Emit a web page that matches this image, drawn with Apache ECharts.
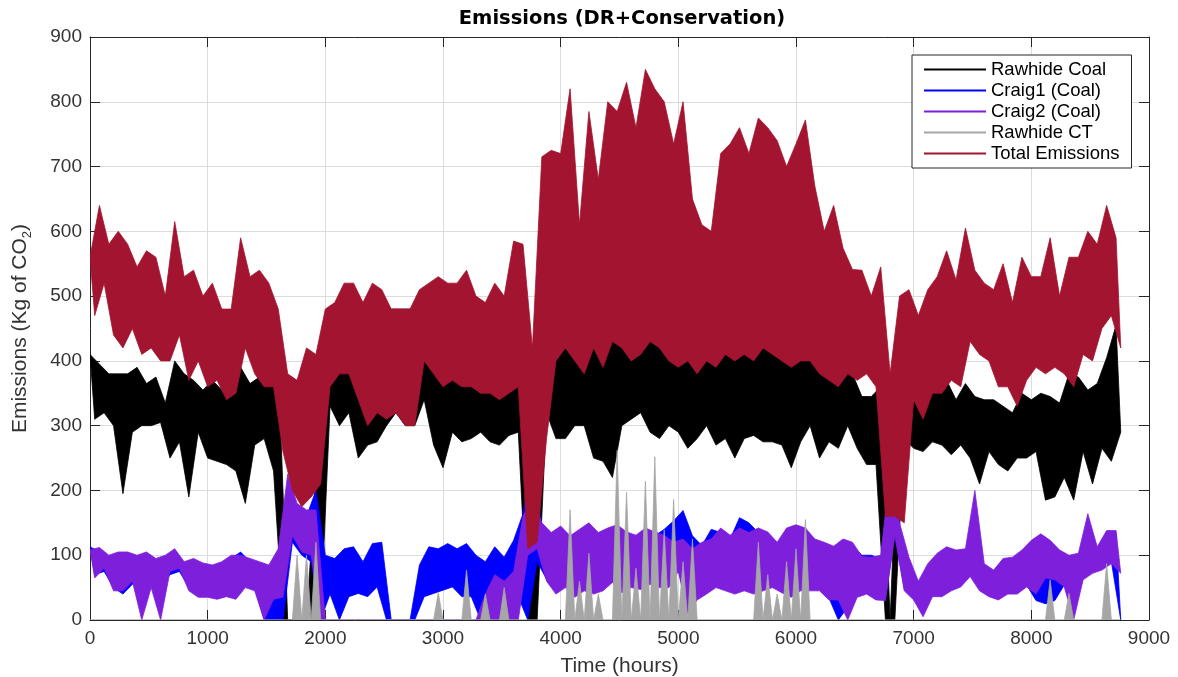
<!DOCTYPE html>
<html><head><meta charset="utf-8">
<script src="https://cdn.jsdelivr.net/npm/echarts@6/dist/echarts.min.js"></script>
<style>html,body{margin:0;padding:0;background:#fff}#c{width:1178px;height:677px}</style>
</head><body><div id="c"></div>
<script>
// Hourly samples are summarised every STEP hours: the peak reading (hi) of the window at t, its dip reading (lo) at t+STEP/2
const STEP = 80;
const xTicks = [0, 1000, 2000, 3000, 4000, 5000, 6000, 7000, 8000, 9000];
const yTicks = [0, 100, 200, 300, 400, 500, 600, 700, 800, 900];
const seriesNames = ['Rawhide Coal', 'Craig1 (Coal)', 'Craig2 (Coal)', 'Rawhide CT', 'Total Emissions'];

const totalHi = [560,640,580,600,580,545,570,560,500,615,
 530,540,500,520,480,480,590,530,540,520,
 480,380,370,420,410,480,490,520,520,490,
 520,510,480,480,480,510,520,530,520,520,
 540,500,490,520,500,585,580,420,715,725,
 720,820,610,785,680,800,785,830,760,850,
 820,800,735,800,650,610,600,720,735,760,
 720,775,760,740,700,735,772,670,600,640,
 574,541,540,500,545,380,500,510,470,510,
 530,570,525,605,540,520,510,550,490,560,
 530,530,590,500,560,560,600,580,640,590];
const totalLo = [470,520,440,420,450,410,420,400,400,440,
 370,400,360,370,340,350,420,380,360,360,
 260,200,175,190,210,360,380,380,340,300,
 320,310,320,300,300,400,380,360,370,360,
 360,350,350,340,350,360,110,120,280,400,
 420,400,380,420,390,430,420,400,410,430,
 420,400,390,400,380,400,390,410,400,410,
 400,420,410,400,390,400,400,380,370,360,
 380,370,380,360,160,160,150,340,310,350,
 350,370,360,430,410,400,360,360,330,370,
 390,380,390,380,360,410,400,450,470,420];

const coalHi = [410,395,380,380,380,390,365,375,335,400,
 380,370,355,370,355,345,390,365,375,380,
 400,0,0,0,225,430,410,420,420,380,
 375,420,480,480,480,420,400,390,380,390,
 380,385,370,360,355,400,410,60,430,450,
 470,430,400,420,450,450,440,470,460,455,
 490,470,480,470,410,400,410,450,470,480,
 470,460,455,420,420,455,475,420,460,400,
 410,380,345,345,360,0,370,330,345,385,
 360,370,340,365,345,340,340,330,320,350,
 340,350,345,335,380,375,355,365,405,455];
const coalLo = [310,320,300,195,290,300,300,305,250,275,
 190,290,250,245,240,230,180,270,280,230,
 0,0,0,0,0,330,300,320,250,270,
 275,300,320,300,300,340,270,235,290,275,
 280,290,275,270,285,290,0,0,320,280,
 280,300,300,250,245,220,300,310,320,290,
 280,300,290,265,280,300,270,280,250,280,
 285,275,275,270,235,275,300,250,275,265,
 300,265,240,240,0,0,280,265,260,275,
 270,255,270,250,210,260,240,230,250,250,
 260,185,190,220,185,260,210,265,245,290];

const craig1Hi = [113,105,95,100,100,95,100,90,95,105,
 85,90,85,80,85,95,105,90,85,80,
 105,200,170,160,200,100,95,110,113,90,
 118,120,0,0,0,85,113,110,118,110,
 118,100,90,113,97,123,164,260,140,120,
 130,125,130,140,130,135,140,130,125,135,
 130,140,153,169,130,115,140,135,125,158,
 150,135,130,115,135,140,135,120,115,110,
 120,115,100,100,95,220,140,90,55,80,
 98,108,103,105,100,82,72,90,92,103,
 118,128,120,103,95,98,120,108,133,133];
const craig1Lo = [70,75,50,40,55,60,55,50,70,75,
 50,40,40,35,40,35,55,50,0,0,
 0,120,100,90,0,40,0,36,41,36,
 51,0,0,0,0,36,41,46,51,36,
 36,0,26,20,41,36,0,90,63,43,
 53,38,48,43,48,60,45,53,50,58,
 53,53,78,20,34,43,53,48,43,48,
 43,48,53,45,38,48,48,48,34,0,
 20,38,43,34,33,133,48,34,10,39,
 39,48,54,70,48,39,34,43,43,54,
 30,25,30,54,20,65,75,80,90,0];

const craig2Hi = [108,112,100,105,105,100,105,95,100,110,
 90,95,88,85,90,100,100,95,90,85,
 110,225,180,170,170,0,0,0,0,0,
 0,0,0,0,0,0,0,0,0,0,
 0,0,40,70,60,75,160,190,150,135,
 145,130,140,150,135,142,147,136,131,142,
 136,131,120,125,110,120,125,142,131,142,
 135,142,136,120,142,147,142,125,120,114,
 125,120,98,97,100,230,150,97,60,87,
 103,113,108,110,200,87,77,95,97,108,
 123,133,123,108,100,103,164,113,138,138];
const craig2Lo = [65,80,45,45,60,0,50,0,75,80,
 45,35,35,32,36,32,50,45,0,32,
 35,130,105,100,0,0,0,0,0,0,
 0,0,0,0,0,0,0,0,0,0,
 0,0,0,0,0,0,100,110,60,40,
 50,35,45,40,45,58,42,50,47,55,
 50,50,75,9,31,40,50,45,40,45,
 40,45,50,42,35,45,45,45,31,31,
 0,35,40,31,30,130,45,31,5,36,
 36,45,51,67,45,36,31,40,40,51,
 40,65,62,51,0,62,72,77,87,72];

const ctHi = [0,0,0,0,0,0,0,0,0,0,
 0,0,0,0,0,0,0,0,0,0,
 0,0,100,100,120,0,0,0,0,0,
 0,0,0,0,0,0,0,42,0,0,
 77,0,40,0,50,0,0,0,0,0,
 0,170,60,103,40,0,262,197,80,214,
 252,139,186,90,125,0,0,0,0,0,
 0,120,70,40,90,110,155,0,0,0,
 0,0,0,0,0,0,0,0,0,0,
 0,0,0,0,0,0,0,0,0,0,
 0,0,62,0,41,0,0,0,87,0];
const ctLo = null; // dips of the CT unit are at zero

const colors = ['#000000', '#0000ff', '#7e1fdc', '#a6a6a6', '#a2142f'];
// 'band': dense hourly trace shown as the region between its peak and dip readings
// 'spikes': sparse trace shown as spikes from zero up to each peak reading
const modes = ['band', 'band', 'band', 'spikes', 'band'];
const his = [coalHi, craig1Hi, craig2Hi, ctHi, totalHi];
const los = [coalLo, craig1Lo, craig2Lo, ctLo, totalLo];

function makeRender(k) {
  const hi = his[k], lo = los[k], mode = modes[k], color = colors[k];
  const loAt = i => (lo ? lo[i] : 0);
  return function (params, api) {
    const pts = [];
    if (mode === 'band') {
      for (let i = 0; i < hi.length; i++) pts.push(api.coord([i * STEP, hi[i]]));
    } else {
      for (let i = 0; i < hi.length; i++) {
        pts.push(api.coord([i * STEP, hi[i]]));
        pts.push(api.coord([i * STEP + STEP / 2, loAt(i)]));
      }
    }
    for (let i = hi.length - 1; i >= 0; i--) pts.push(api.coord([i * STEP + STEP / 2, loAt(i)]));
    return {
      type: 'polygon',
      shape: {points: pts},
      style: {fill: color, stroke: color, lineWidth: 0.8, lineJoin: 'bevel'}
    };
  };
}

const FONT = '"Liberation Sans", Arial, Helvetica, sans-serif';
const axisColor = '#262626';
const labelColor = '#333333';

const chart = echarts.init(document.getElementById('c'), null, {renderer: 'canvas'});
chart.setOption({
  animation: false,
  backgroundColor: '#ffffff',
  title: {
    text: 'Emissions (DR+Conservation)',
    left: 617, top: 4, textAlign: 'center',
    textStyle: {fontFamily: '"DejaVu Sans", sans-serif', fontWeight: 'bold', fontSize: 19.5, color: '#000'}
  },
  grid: {left: 90, right: 29, top: 37, bottom: 57, containLabel: false, outerBoundsMode: 'none'},
  legend: {
    data: seriesNames,
    orient: 'vertical',
    left: 912, top: 55,
    padding: [5, 12, 5, 12],
    itemGap: 2,
    itemWidth: 62, itemHeight: 2,
    icon: 'rect',
    backgroundColor: '#ffffff',
    borderColor: axisColor, borderWidth: 1, borderRadius: 0,
    textStyle: {fontFamily: FONT, fontSize: 18.5, lineHeight: 18, color: '#000'},
    z: 20
  },
  xAxis: [{
    type: 'value', min: xTicks[0], max: xTicks[xTicks.length - 1], interval: xTicks[1] - xTicks[0],
    name: 'Time (hours)', nameLocation: 'middle', nameGap: 36,
    nameTextStyle: {fontFamily: FONT, fontSize: 21, color: labelColor},
    axisLine: {show: true, onZero: false, lineStyle: {color: axisColor, width: 1}},
    axisTick: {show: true, inside: true, length: 10, lineStyle: {color: axisColor}},
    axisLabel: {fontFamily: FONT, fontSize: 19, color: labelColor, margin: 9, formatter: v => String(v)},
    splitLine: {show: true, lineStyle: {color: '#dcdcdc', width: 1}}
  }, {
    type: 'value', position: 'top', min: xTicks[0], max: xTicks[xTicks.length - 1], interval: xTicks[1] - xTicks[0],
    axisLine: {show: true, onZero: false, lineStyle: {color: axisColor, width: 1}},
    axisTick: {show: true, inside: true, length: 10, lineStyle: {color: axisColor}},
    axisLabel: {show: false}, splitLine: {show: false}
  }],
  yAxis: [{
    type: 'value', min: yTicks[0], max: yTicks[yTicks.length - 1], interval: yTicks[1] - yTicks[0],
    name: '{a|Emissions (Kg of CO}{s|2}{a|)}', nameLocation: 'middle', nameGap: 56, nameRotate: 90,
    nameTextStyle: {
      fontFamily: FONT, fontSize: 21, color: labelColor,
      rich: {
        a: {fontFamily: FONT, fontSize: 21, lineHeight: 28, color: labelColor, verticalAlign: 'middle'},
        s: {fontFamily: FONT, fontSize: 13, lineHeight: 13, color: labelColor, verticalAlign: 'bottom'}
      }
    },
    axisLine: {show: true, onZero: false, lineStyle: {color: axisColor, width: 1}},
    axisTick: {show: true, inside: true, length: 10, lineStyle: {color: axisColor}},
    axisLabel: {fontFamily: FONT, fontSize: 19, color: labelColor, margin: 8, formatter: v => String(v)},
    splitLine: {show: true, lineStyle: {color: '#dcdcdc', width: 1}}
  }, {
    type: 'value', position: 'right', min: yTicks[0], max: yTicks[yTicks.length - 1], interval: yTicks[1] - yTicks[0],
    axisLine: {show: true, onZero: false, lineStyle: {color: axisColor, width: 1}},
    axisTick: {show: true, inside: true, length: 10, lineStyle: {color: axisColor}},
    axisLabel: {show: false}, splitLine: {show: false}
  }],
  series: seriesNames.map((name, k) => ({
    name: name,
    type: 'custom',
    coordinateSystem: 'cartesian2d',
    xAxisIndex: 0, yAxisIndex: 0,
    data: [[0, his[k][0]]],
    renderItem: makeRender(k),
    clip: true,
    silent: true,
    itemStyle: {color: colors[k]},
    color: colors[k],
    z: 2
  }))
});
</script>
</body></html>
